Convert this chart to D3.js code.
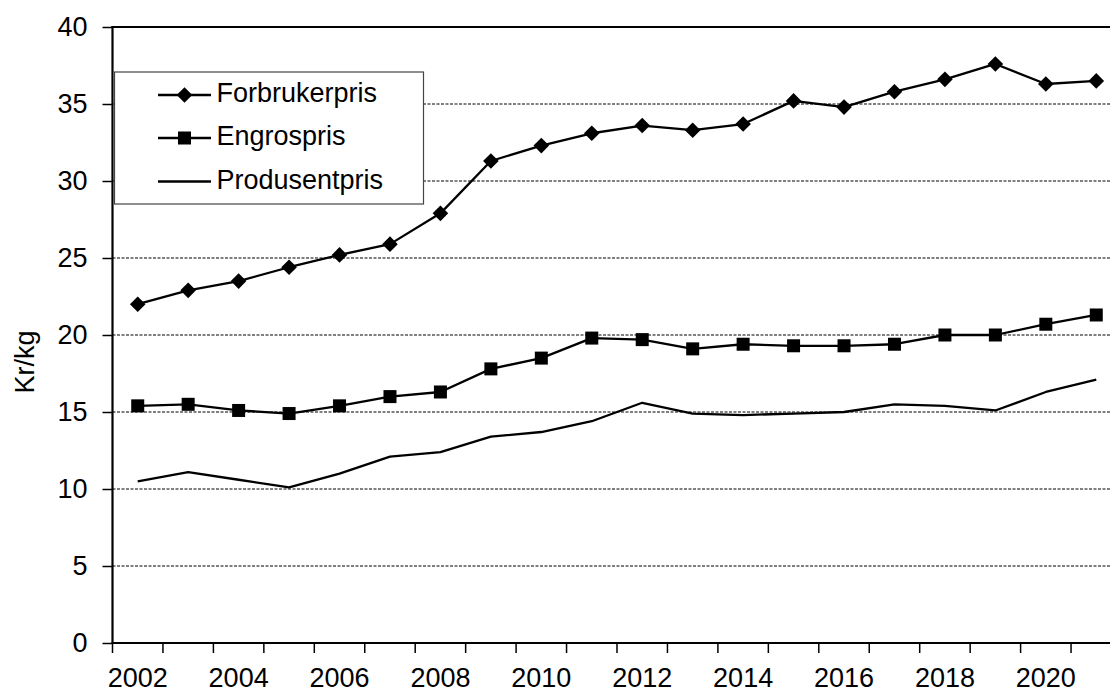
<!DOCTYPE html>
<html>
<head>
<meta charset="utf-8">
<script src="https://cdn.jsdelivr.net/npm/d3@7"></script>
<style>
  body { margin: 0; background: #fff; }
  svg { display: block; font-family: "Liberation Sans", Arial, sans-serif; }
</style>
</head>
<body>
<svg id="chart" width="1110" height="693"></svg>
<script>
// Price series, kr per kg, one value per year
const years = [2002, 2003, 2004, 2005, 2006, 2007, 2008, 2009, 2010, 2011,
               2012, 2013, 2014, 2015, 2016, 2017, 2018, 2019, 2020, 2021];
const forbrukerpris = [22.0, 22.9, 23.5, 24.4, 25.2, 25.9, 27.9, 31.3, 32.3, 33.1,
                       33.6, 33.3, 33.7, 35.2, 34.8, 35.8, 36.6, 37.6, 36.3, 36.5];
const engrospris = [15.4, 15.5, 15.1, 14.9, 15.4, 16.0, 16.3, 17.8, 18.5, 19.8,
                    19.7, 19.1, 19.4, 19.3, 19.3, 19.4, 20.0, 20.0, 20.7, 21.3];
const produsentpris = [10.5, 11.1, 10.6, 10.1, 11.0, 12.1, 12.4, 13.4, 13.7, 14.4,
                       15.6, 14.9, 14.8, 14.9, 15.0, 15.5, 15.4, 15.1, 16.3, 17.1];
const yTicks = [0, 5, 10, 15, 20, 25, 30, 35, 40];
const xTickLabels = [2002, 2004, 2006, 2008, 2010, 2012, 2014, 2016, 2018, 2020];
const seriesNames = ["Forbrukerpris", "Engrospris", "Produsentpris"];
const axisTitle = "Kr/kg";

const svg = d3.select("#chart");
const W = 1110, H = 693;
svg.append("rect").attr("width", W).attr("height", H).attr("fill", "#fff");

// plot area (runs slightly past the right edge of the canvas)
const plotLeft = 112.5, plotRight = 1121.5, plotTop = 27, plotBottom = 643;
const FONT = 27;

const x = d3.scaleBand().domain(years).range([plotLeft, plotRight]).paddingInner(0).paddingOuter(0);
const y = d3.scaleLinear().domain([0, 40]).range([plotBottom, plotTop]);
const cx = d => x(d) + x.bandwidth() / 2;

// dashed horizontal gridlines
svg.append("g").selectAll("line")
  .data(yTicks.filter(v => v > 0 && v < 40))
  .join("line")
  .attr("x1", plotLeft).attr("x2", plotRight)
  .attr("y1", d => y(d)).attr("y2", d => y(d))
  .attr("stroke", "#000").attr("stroke-width", 1)
  .attr("stroke-dasharray", "3,1.5");

// series lines
const line = d3.line().x((d, i) => cx(years[i])).y(d => y(d));
[forbrukerpris, engrospris, produsentpris].forEach(s => {
  svg.append("path").datum(s).attr("d", line)
    .attr("fill", "none").attr("stroke", "#000").attr("stroke-width", 2.3)
    .attr("stroke-linejoin", "round");
});

// markers
function diamondPath(r) {
  return `M0,${-r}L${r},0L0,${r}L${-r},0Z`;
}
svg.append("g").selectAll("path")
  .data(forbrukerpris)
  .join("path")
  .attr("transform", (d, i) => `translate(${cx(years[i])},${y(d)})`)
  .attr("d", diamondPath(7.8))
  .attr("fill", "#000");

svg.append("g").selectAll("rect")
  .data(engrospris)
  .join("rect")
  .attr("x", (d, i) => cx(years[i]) - 6.5)
  .attr("y", d => y(d) - 6.5)
  .attr("width", 13).attr("height", 13)
  .attr("fill", "#000");

// y axis ticks and labels
const yAxis = d3.axisLeft(y).tickValues(yTicks).tickSize(10).tickPadding(15);
const gy = svg.append("g").attr("transform", `translate(${plotLeft},0)`).call(yAxis);
gy.select(".domain").remove();
gy.selectAll(".tick line").attr("stroke", "#000").attr("stroke-width", 1.5);
gy.selectAll(".tick text").attr("font-size", FONT).attr("fill", "#000")
  .attr("font-family", "'Liberation Sans', Arial, sans-serif");

// x axis: labels under every second category
const xAxis = d3.axisBottom(x).tickValues(xTickLabels).tickSize(0).tickPadding(25);
const gx = svg.append("g").attr("transform", `translate(0,${plotBottom})`).call(xAxis);
gx.select(".domain").remove();
gx.selectAll(".tick line").remove();
gx.selectAll(".tick text").attr("font-size", FONT).attr("fill", "#000")
  .attr("font-family", "'Liberation Sans', Arial, sans-serif");

// x tick marks on category boundaries
const bounds = years.map(d => x(d)).concat([x(years[years.length - 1]) + x.bandwidth()]);
svg.append("g").selectAll("line")
  .data(bounds)
  .join("line")
  .attr("x1", d => d).attr("x2", d => d)
  .attr("y1", plotBottom).attr("y2", plotBottom + 10)
  .attr("stroke", "#000").attr("stroke-width", 1.5);

// plot frame: left, bottom and top edges
svg.append("line").attr("x1", plotLeft).attr("x2", plotLeft).attr("y1", plotTop - 1).attr("y2", plotBottom + 1)
  .attr("stroke", "#000").attr("stroke-width", 2.2);
svg.append("line").attr("x1", plotLeft - 1).attr("x2", plotRight).attr("y1", plotBottom).attr("y2", plotBottom)
  .attr("stroke", "#000").attr("stroke-width", 2.2);
svg.append("line").attr("x1", plotLeft - 1).attr("x2", plotRight).attr("y1", plotTop).attr("y2", plotTop)
  .attr("stroke", "#000").attr("stroke-width", 2.2);

// y axis title
svg.append("text")
  .attr("transform", `translate(34,362) rotate(-90)`)
  .attr("text-anchor", "middle")
  .attr("font-size", FONT)
  .attr("fill", "#000")
  .text(axisTitle);

// legend
const lg = svg.append("g");
lg.append("rect").attr("x", 114.5).attr("y", 72).attr("width", 309).attr("height", 132)
  .attr("fill", "#fff").attr("stroke", "#444").attr("stroke-width", 1.2);
const rowY = [95, 138, 181.5];
seriesNames.forEach((name, i) => {
  const ry = rowY[i];
  lg.append("line").attr("x1", 158).attr("x2", 211).attr("y1", ry).attr("y2", ry)
    .attr("stroke", "#000").attr("stroke-width", 2.3);
  if (i === 0) {
    lg.append("path").attr("transform", `translate(184.5,${ry})`).attr("d", diamondPath(7.8)).attr("fill", "#000");
  } else if (i === 1) {
    lg.append("rect").attr("x", 184.5 - 6.5).attr("y", ry - 6.5).attr("width", 13).attr("height", 13).attr("fill", "#000");
  }
  lg.append("text").attr("x", 216.5).attr("y", ry + 7).attr("font-size", 27)
    .attr("fill", "#000").text(name);
});
</script>
</body>
</html>
